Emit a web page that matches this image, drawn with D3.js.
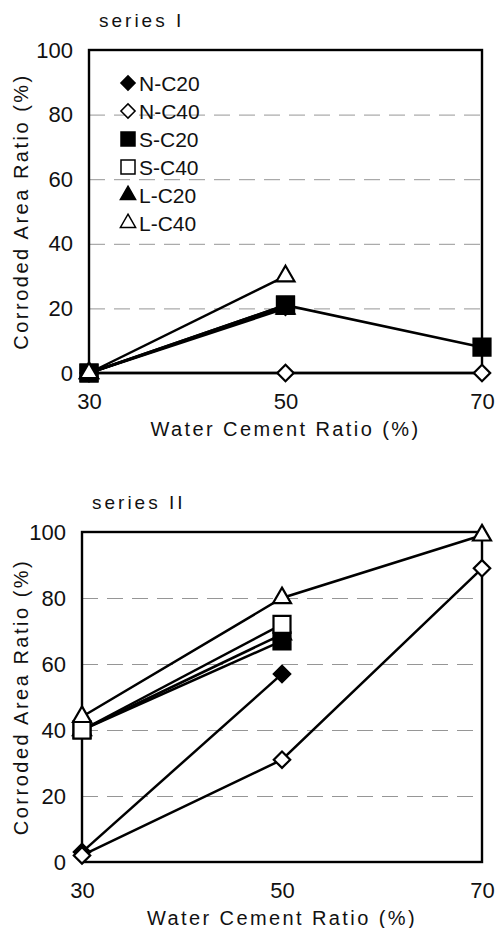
<!DOCTYPE html>
<html>
<head>
<meta charset="utf-8">
<script src="https://cdn.jsdelivr.net/npm/d3@7"></script>
<style>
  body { margin: 0; background: #fff; }
  text { font-family: "Liberation Sans", Arial, sans-serif; fill: #111; }
</style>
</head>
<body>
<div id="chart"></div>
<script>
const width = 497, height = 928;

// data
const xTicks = [30, 50, 70];
const yTicks = [0, 20, 40, 60, 80, 100];
const gridTicks = [20, 40, 60, 80];
const seriesNames = ["N-C20", "N-C40", "S-C20", "S-C40", "L-C20", "L-C40"];
const seriesShapes = ["diamond", "diamond", "square", "square", "triangle", "triangle"];
const seriesFilled = [true, false, true, false, true, false];

// series I (null = no measurement)
const s1_NC20 = [0, 20.5, null];
const s1_NC40 = [0, 0, 0];
const s1_SC20 = [0, 21, 8];
const s1_SC40 = [0, 21, null];
const s1_LC20 = [0, 20, null];
const s1_LC40 = [0, 30, null];

// series II
const s2_NC20 = [3, 57, null];
const s2_NC40 = [2, 31, 89];
const s2_SC20 = [40, 67, null];
const s2_SC40 = [40, 72, null];
const s2_LC20 = [40, 69, null];
const s2_LC40 = [44, 80, 99];

const svg = d3.select("#chart")
    .append("svg")
    .attr("width", width)
    .attr("height", height);

function symbolPath(shape, big) {
    if (shape === "square") return d3.symbol(d3.symbolSquare, big ? 289 : 196)();
    if (shape === "triangle") return d3.symbol(d3.symbolTriangle, big ? 140 : 100)();
    return d3.symbol(d3.symbolSquare, big ? 135 : 100)();
}

function drawPanel(opt) {
    const x = d3.scaleLinear().domain([30, 70]).range([opt.left, opt.right]);
    const y = d3.scaleLinear().domain([0, 100]).range([opt.bottom, opt.top]);
    const g = svg.append("g");

    // grid lines
    g.append("g")
        .attr("transform", `translate(${opt.left},0)`)
        .call(d3.axisLeft(y).tickValues(gridTicks).tickSize(-(opt.right - opt.left)).tickFormat(""))
        .call(a => a.select(".domain").remove())
        .call(a => a.selectAll("line")
            .attr("stroke", "#8a8a8a")
            .attr("stroke-width", 0.9)
            .attr("stroke-dasharray", "16,9"));

    // y tick labels
    g.append("g")
        .attr("transform", `translate(${opt.left},0)`)
        .call(d3.axisLeft(y).tickValues(yTicks).tickSize(0).tickPadding(16))
        .call(a => a.select(".domain").remove())
        .call(a => a.selectAll("text")
            .attr("font-size", 22)
            .attr("font-family", "Liberation Sans, Arial, sans-serif")
            .attr("fill", "#111"));

    // x tick labels
    g.append("g")
        .attr("transform", `translate(0,${opt.bottom})`)
        .call(d3.axisBottom(x).tickValues(xTicks).tickSize(0).tickPadding(20))
        .call(a => a.select(".domain").remove())
        .call(a => a.selectAll("text")
            .attr("font-size", 22)
            .attr("font-family", "Liberation Sans, Arial, sans-serif")
            .attr("fill", "#111"));

    // frame
    g.append("rect")
        .attr("x", opt.left).attr("y", opt.top)
        .attr("width", opt.right - opt.left)
        .attr("height", opt.bottom - opt.top)
        .attr("fill", "none")
        .attr("stroke", "#000")
        .attr("stroke-width", 2.4);

    // titles
    g.append("text")
        .attr("x", opt.left + 10).attr("y", opt.top - 23)
        .attr("font-size", 19)
        .attr("letter-spacing", 3)
        .text(opt.title);

    g.append("text")
        .attr("x", (opt.left + opt.right) / 2).attr("y", opt.bottom + 63)
        .attr("text-anchor", "middle")
        .attr("font-size", 20)
        .attr("letter-spacing", 2.4)
        .text("Water Cement Ratio  (%)");

    g.append("text")
        .attr("transform", `translate(28,${(opt.top + opt.bottom) / 2}) rotate(-90)`)
        .attr("text-anchor", "middle")
        .attr("font-size", 20)
        .attr("letter-spacing", 2.5)
        .text("Corroded Area Ratio  (%)");

    const line = d3.line()
        .defined(d => d.v !== null)
        .x(d => x(d.x))
        .y(d => y(d.v));

    const series = opt.order.map(i => ({
        i: i,
        pts: opt.values[i].map((v, k) => ({ x: xTicks[k], v: v }))
    }));

    g.selectAll(".series-line")
        .data(series)
        .enter().append("path")
        .attr("class", "series-line")
        .attr("d", d => line(d.pts))
        .attr("fill", "none")
        .attr("stroke", "#000")
        .attr("stroke-width", 2.5);

    series.forEach(s => {
        g.selectAll(null)
            .data(s.pts.filter(p => p.v !== null))
            .enter().append("path")
            .attr("d", symbolPath(seriesShapes[s.i], true))
            .attr("transform", p => `translate(${x(p.x)},${y(p.v)})` +
                (seriesShapes[s.i] === "diamond" ? " rotate(45)" : ""))
            .attr("fill", seriesFilled[s.i] ? "#000" : "#fff")
            .attr("stroke", "#000")
            .attr("stroke-width", 2.2);
    });

    if (opt.legend) {
        const lg = g.append("g");
        seriesNames.forEach((name, i) => {
            const yy = 83 + i * 28;
            lg.append("path")
                .attr("d", symbolPath(seriesShapes[i], false))
                .attr("transform", `translate(128,${yy})` + (seriesShapes[i] === "diamond" ? " rotate(45)" : ""))
                .attr("fill", seriesFilled[i] ? "#000" : "#fff")
                .attr("stroke", "#000")
                .attr("stroke-width", 1.5);
            lg.append("text")
                .attr("x", 139).attr("y", yy)
                .attr("dy", "0.36em")
                .attr("font-size", 21)
                .text(name);
        });
    }
}

drawPanel({
    title: "series I",
    left: 89, right: 482, top: 50, bottom: 373,
    values: [s1_NC20, s1_NC40, s1_SC20, s1_SC40, s1_LC20, s1_LC40],
    order: [0, 4, 3, 1, 2, 5],
    legend: true
});

drawPanel({
    title: "series II",
    left: 82, right: 482, top: 532, bottom: 862,
    values: [s2_NC20, s2_NC40, s2_SC20, s2_SC40, s2_LC20, s2_LC40],
    order: [4, 0, 1, 2, 3, 5],
    legend: false
});
</script>
</body>
</html>
